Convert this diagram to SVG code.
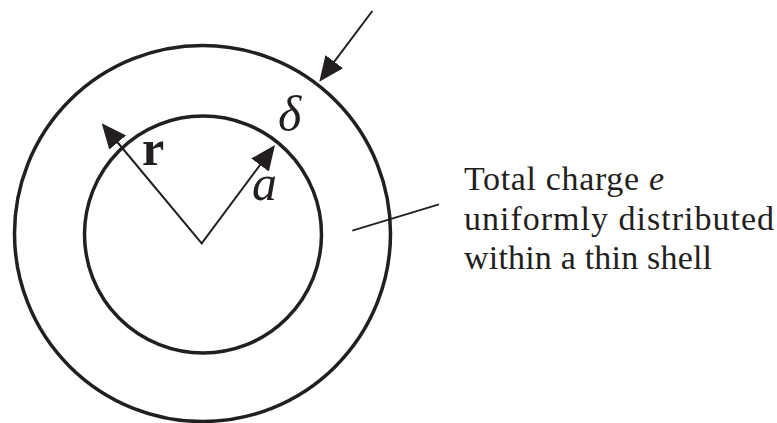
<svg xmlns="http://www.w3.org/2000/svg" width="777" height="423" viewBox="0 0 777 423">
  <style>
    .shell { fill: none; stroke: #231f20; stroke-width: 3.5; }
    .conn { fill: none; stroke: #231f20; stroke-width: 2; stroke-linejoin: miter; }
    .lead { fill: none; stroke: #231f20; stroke-width: 1.8; }
    .txt { font-family: 'Liberation Serif', 'Times New Roman', serif; fill: #231f20; }
    .note { font-size: 34px; }
    .sym { font-size: 50px; }
  </style>
  <defs>
    <marker id="ah" markerUnits="userSpaceOnUse" markerWidth="30" markerHeight="24" viewBox="0 -12 30 24" refX="15" refY="0" orient="auto-start-reverse">
      <path d="M0,-11 L25,0 L0,11 z" fill="#231f20"/>
    </marker>
  </defs>
  <rect width="777" height="423" fill="#ffffff"/>
  <g id="outer-shell">
    <circle class="shell" cx="202.5" cy="233.5" r="188"/>
  </g>
  <g id="inner-sphere">
    <circle class="shell" cx="203" cy="234.5" r="118.5"/>
  </g>
  <g id="connectors">
    <path class="conn" d="M108.1,131 L201.7,243.3 L269,153" marker-start="url(#ah)" marker-end="url(#ah)"/>
    <line class="conn" x1="372.3" y1="11" x2="325.3" y2="73.7" marker-end="url(#ah)"/>
    <line class="lead" x1="352.3" y1="230.7" x2="439" y2="204.3"/>
  </g>
  <g id="labels">
    <text class="txt sym" x="142" y="165" font-weight="bold">r</text>
    <text class="txt sym" x="252" y="200" font-style="italic">a</text>
    <text class="txt sym" x="278" y="131" font-style="italic">δ</text>
  </g>
  <g id="note">
    <text class="txt note" x="464" y="189.5" textLength="200" lengthAdjust="spacing">Total charge <tspan font-style="italic">e</tspan></text>
    <text class="txt note" x="464" y="229.5" textLength="310" lengthAdjust="spacing">uniformly distributed</text>
    <text class="txt note" x="464" y="268.5" textLength="248" lengthAdjust="spacing">within a thin shell</text>
  </g>
</svg>
